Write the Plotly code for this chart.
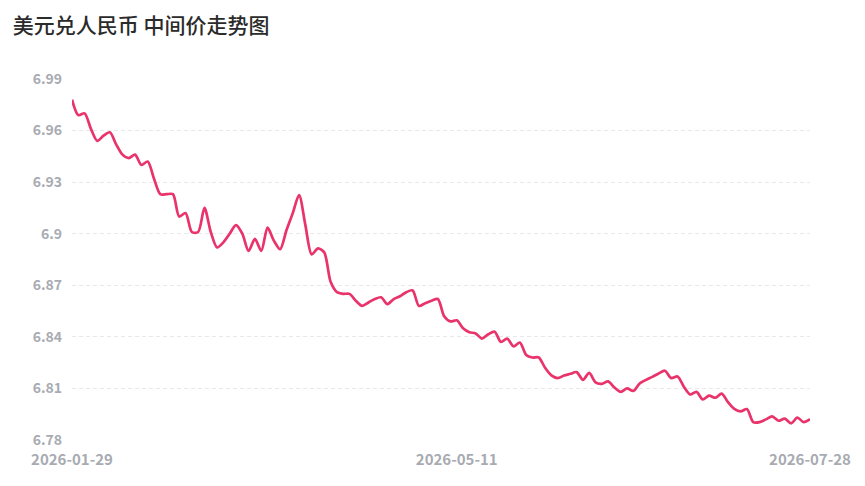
import pandas as pd
import plotly.graph_objects as go

# --- Data ---
START_DATE = '2026-01-29'
END_DATE = '2026-07-28'
HOLIDAYS = ['2026-02-16', '2026-02-17', '2026-02-18', '2026-02-19', '2026-02-20',
            '2026-02-23', '2026-02-24', '2026-04-06', '2026-05-01', '2026-05-04',
            '2026-05-05']

mid_rate = [
    6.9780, 6.9690, 6.9700, 6.9610, 6.9540, 6.9570, 6.9590, 6.9520, 6.9460, 6.9440,
    6.9460, 6.9400, 6.9420, 6.9320, 6.9230, 6.9230, 6.9230, 6.9100, 6.9120, 6.9010,
    6.9010, 6.9150, 6.9010, 6.8920, 6.8950, 6.9000, 6.9050, 6.9000, 6.8900, 6.8970,
    6.8900, 6.9035, 6.8960, 6.8910, 6.9020, 6.9120, 6.9225, 6.9050, 6.8880, 6.8915,
    6.8890, 6.8720, 6.8660, 6.8650, 6.8650, 6.8610, 6.8580, 6.8600, 6.8620, 6.8630,
    6.8590, 6.8620, 6.8636, 6.8660, 6.8670, 6.8580, 6.8596, 6.8610, 6.8620, 6.8520,
    6.8490, 6.8496, 6.8450, 6.8427, 6.8420, 6.8390, 6.8415, 6.8430, 6.8370, 6.8390,
    6.8345, 6.8367, 6.8295, 6.8280, 6.8280, 6.8220, 6.8176, 6.8160, 6.8175, 6.8185,
    6.8195, 6.8150, 6.8190, 6.8135, 6.8127, 6.8141, 6.8105, 6.8080, 6.8100, 6.8085,
    6.8129, 6.8150, 6.8167, 6.8187, 6.8203, 6.8160, 6.8170, 6.8110, 6.8065, 6.8080,
    6.8036, 6.8058, 6.8046, 6.8070, 6.8020, 6.7981, 6.7966, 6.7980, 6.7904, 6.7904,
    6.7920, 6.7937, 6.7912, 6.7924, 6.7897, 6.7930, 6.7904, 6.7921,
]

y_ticks = [6.78, 6.81, 6.84, 6.87, 6.90, 6.93, 6.96, 6.99]
y_tick_labels = ['6.78', '6.81', '6.84', '6.87', '6.9', '6.93', '6.96', '6.99']
x_tick_labels = ['2026-01-29', '2026-05-11', '2026-07-28']

# trading days (weekdays minus holidays)
days = pd.bdate_range(START_DATE, END_DATE, freq='C', holidays=HOLIDAYS)
dates = [d.strftime('%Y-%m-%d') for d in days]
print(len(dates), len(mid_rate))

LINE_COLOR = '#e8336b'
GRID_COLOR = '#e9e9ec'
TICK_COLOR = '#a8abb2'
FONT = 'Noto Sans CJK SC'

fig = go.Figure()
fig.add_trace(go.Scatter(x=dates, y=mid_rate, mode='lines',
                         line=dict(color=LINE_COLOR, width=2.7, shape='spline', smoothing=0.8),
                         hoverinfo='x+y'))

# page body has an 8px margin, so the figure is a bit smaller than the window
fig.update_layout(
    width=849, height=470,
    template='plotly_white',
    paper_bgcolor='white', plot_bgcolor='white',
    margin=dict(l=64, r=47, t=71, b=38),
    showlegend=False,
    font=dict(family=FONT),
    title=dict(text='美元兑人民币 中间价走势图', x=0.0055, xanchor='left', xref='container',
               y=0.962, yanchor='middle', yref='container',
               font=dict(family=FONT, size=21, color='#2b2b2b', weight=500)),
)
fig.update_xaxes(type='category', range=[0, len(dates) - 1], automargin=False,
                 tickvals=x_tick_labels, ticktext=x_tick_labels,
                 showgrid=False, zeroline=False, showline=False, ticks='',
                 ticklabelstandoff=9,
                 tickfont=dict(family=FONT, size=15, color=TICK_COLOR, weight=600))
fig.update_yaxes(range=[6.78, 6.99], tickvals=y_ticks, ticktext=y_tick_labels, automargin=False,
                 showgrid=True, gridcolor=GRID_COLOR, griddash='4px,3px', gridwidth=1,
                 zeroline=False, showline=False, ticks='', ticklabelstandoff=9,
                 tickfont=dict(family=FONT, size=14, color=TICK_COLOR, weight=600))

fig.write_html("out.html")
